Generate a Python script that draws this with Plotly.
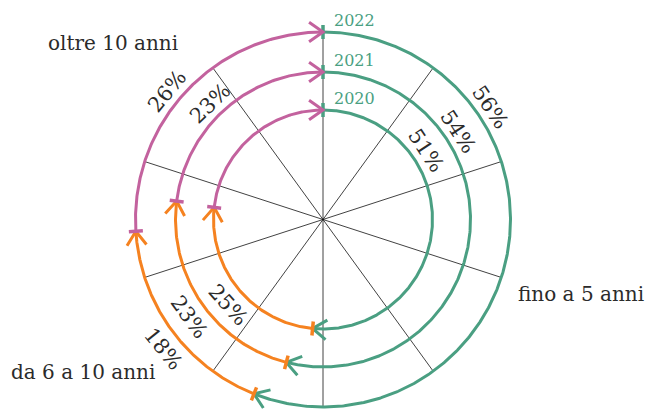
import numpy as np
import plotly.graph_objects as go

# Share of each duration class per year (percent)
years = ["2020", "2021", "2022"]
categories = ["fino a 5 anni", "da 6 a 10 anni", "oltre 10 anni"]
share_short = [51, 54, 56]    # fino a 5 anni
share_mid = [25, 23, 18]      # da 6 a 10 anni
share_long = [23, 23, 26]     # oltre 10 anni
series = [share_short, share_mid, share_long]

# Which percentage labels are printed (per category, per year)
label_visible = [
    [True, True, True],
    [True, True, True],
    [False, True, True],
]

# Styling
COLORS = ["#4a9f82", "#f58220", "#c3629e"]
TEXT = "#2b2b2b"
FONT = "DejaVu Serif"
RADII = [109.5, 147.5, 187.5]            # ring radius per year (px)
LABEL_ANGLE = [                           # clockwise from 12 o'clock, degrees
    [56.5, 57.0, 56.0],
    [228.0, 234.0, 231.0],
    [0.0, 316.0, 309.5],
]
LABEL_OFFSET = [14, 18, 14]               # radial gap per category
CATEGORY_POS = [(257.5, -74.5), (-240.5, -152.5), (-210.0, 176.5)]


def polar(r, deg):
    a = np.radians(deg)
    return r * np.sin(a), r * np.cos(a)


fig = go.Figure()

# spokes every 36 degrees
R_OUT = RADII[-1]
for k in range(5):
    ang = k * 36
    x0, y0 = polar(R_OUT, ang)
    x1, y1 = polar(R_OUT, ang + 180)
    fig.add_trace(go.Scatter(x=[x0, x1], y=[y0, y1], mode="lines",
                             line=dict(color="#111111", width=0.8),
                             hoverinfo="skip"))

annotations = []
for yi, (year, r) in enumerate(zip(years, RADII)):
    vals = [s[yi] for s in series]
    total = sum(vals)
    bounds = np.concatenate([[0], np.cumsum(vals)]) / total * 360.0
    for ci in range(len(categories)):
        th0, th1 = bounds[ci], bounds[ci + 1]
        col = COLORS[ci]
        # arc
        t = np.linspace(th0, th1, max(int(th1 - th0) * 2, 10))
        ax, ay = polar(r, t)
        fig.add_trace(go.Scatter(x=ax, y=ay, mode="lines",
                                 line=dict(color=col, width=3),
                                 hoverinfo="skip"))
        # radial tick at segment start
        tx0, ty0 = polar(r - 7, th0)
        tx1, ty1 = polar(r + 7, th0)
        fig.add_trace(go.Scatter(x=[tx0, tx1], y=[ty0, ty1], mode="lines",
                                 line=dict(color=col, width=3.5),
                                 hoverinfo="skip"))
        # open arrowhead at segment end, pointing clockwise
        px, py = polar(r, th1)
        a = np.radians(th1)
        back = np.array([-np.cos(a), np.sin(a)])
        arms = []
        for sgn in (1, -1):
            al = np.radians(35) * sgn
            rot = np.array([[np.cos(al), -np.sin(al)], [np.sin(al), np.cos(al)]])
            arms.append(np.array([px, py]) + 17 * rot @ back)
        fig.add_trace(go.Scatter(x=[arms[0][0], px, arms[1][0]],
                                 y=[arms[0][1], py, arms[1][1]], mode="lines",
                                 line=dict(color=col, width=3),
                                 hoverinfo="skip"))
        # percentage label along the ring
        if label_visible[ci][yi]:
            ang = LABEL_ANGLE[ci][yi]
            lx, ly = polar(r + LABEL_OFFSET[ci], ang)
            rot = ang if ang <= 90 else (ang - 180 if ang < 270 else ang - 360)
            annotations.append(dict(x=lx, y=ly, xref="x", yref="y",
                                    text=f"{vals[ci]}%", showarrow=False,
                                    textangle=rot, xanchor="center",
                                    yanchor="middle",
                                    font=dict(family=FONT, size=21, color=TEXT)))
    # year label at the top of each ring
    annotations.append(dict(x=9, y=r + 12, xref="x", yref="y", text=year,
                            showarrow=False, xanchor="left", yanchor="middle",
                            font=dict(family=FONT, size=16, color=COLORS[0])))

for name, (cx, cy) in zip(categories, CATEGORY_POS):
    annotations.append(dict(x=cx, y=cy, xref="x", yref="y", text=name,
                            showarrow=False, xanchor="center", yanchor="middle",
                            font=dict(family=FONT, size=20, color=TEXT)))

fig.update_layout(
    width=649, height=410,
    margin=dict(l=0, r=0, t=0, b=0),
    paper_bgcolor="white", plot_bgcolor="white",
    showlegend=False,
    xaxis=dict(range=[-323, 326], visible=False, fixedrange=True),
    yaxis=dict(range=[-190.5, 219.5], visible=False, fixedrange=True),
    annotations=annotations,
)

fig.write_html("out.html")
